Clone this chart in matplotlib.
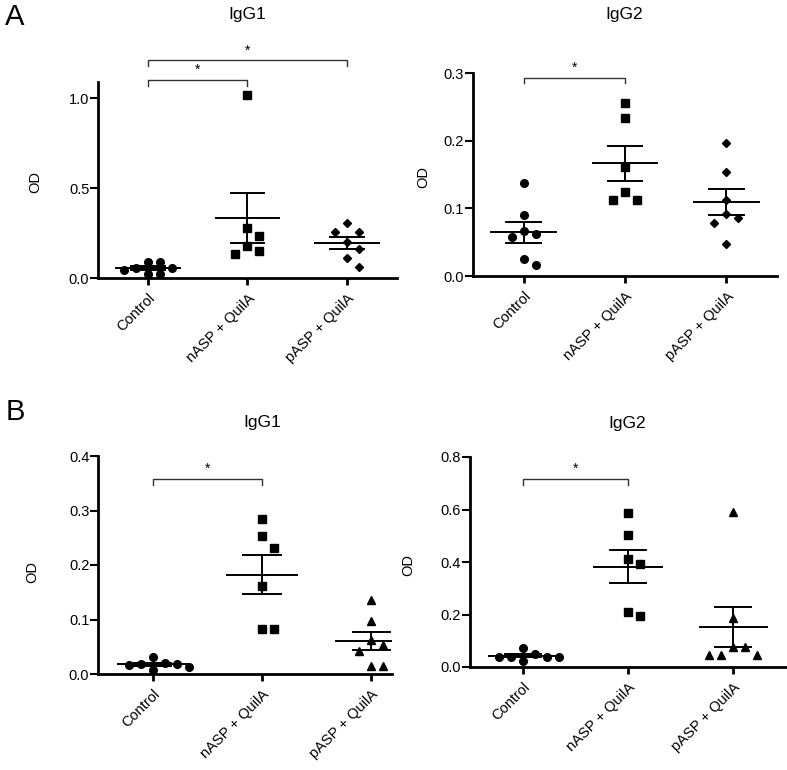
import numpy as np
import matplotlib
matplotlib.use("Agg")
import matplotlib.pyplot as plt

plt.rcParams['font.family'] = ['Liberation Sans', 'DejaVu Sans']

GROUPS = ['Control', 'nASP + QuilA', 'pASP + QuilA']

# panel A (IgG1, IgG2)
A_IGG1 = [
    [0.056, 0.045, 0.089, 0.089, 0.020, 0.020, 0.056],
    [1.02, 0.278, 0.231, 0.176, 0.135, 0.148],
    [0.306, 0.256, 0.256, 0.200, 0.163, 0.111, 0.059],
]
A_IGG2 = [
    [0.137, 0.090, 0.066, 0.062, 0.0575, 0.025, 0.016],
    [0.256, 0.234, 0.161, 0.1235, 0.112, 0.113],
    [0.197, 0.154, 0.112, 0.085, 0.0915, 0.079, 0.047],
]
# panel B (IgG1, IgG2)
B_IGG1 = [
    [0.018, 0.016, 0.008, 0.031, 0.013, 0.018, 0.021],
    [0.285, 0.253, 0.232, 0.161, 0.082, 0.082],
    [0.136, 0.0965, 0.063, 0.054, 0.0415, 0.015, 0.015],
]
B_IGG2 = [
    [0.073, 0.038, 0.038, 0.023, 0.038, 0.038, 0.048],
    [0.586, 0.501, 0.410, 0.391, 0.195, 0.210],
    [0.592, 0.1885, 0.076, 0.045, 0.045, 0.045, 0.076],
]

A_MARKERS = ['o', 's', 'D']
B_MARKERS = ['o', 's', '^']
MSIZE = {'o': 5.5, 's': 5.5, 'D': 4.0, '^': 5.5}

# (group i, group j, bracket height, label)
A1_SIG = [(0, 1, 1.10, '*'), (0, 2, 1.21, '*')]
A2_SIG = [(0, 1, 0.293, '*')]
B1_SIG = [(0, 1, 0.358, '*')]
B2_SIG = [(0, 1, 0.717, '*')]

W, H = 787, 770
fig = plt.figure(figsize=(W / 100, H / 100), dpi=100)


def box(l, r, t, b):
    return [l / W, 1 - b / H, (r - l) / W, (b - t) / H]


def swarm(ax, vals, d_px):
    # simple beeswarm: push points sideways until they don't overlap
    fig.canvas.draw()
    tr = ax.transData
    px_x = tr.transform((1, 0))[0] - tr.transform((0, 0))[0]
    px_y = tr.transform((0, 1))[1] - tr.transform((0, 0))[1]
    order = np.argsort(vals)[::-1]
    placed = []
    xs = np.zeros(len(vals))
    for i in order:
        y = vals[i] * px_y
        ok = 0
        for k in range(0, 20):
            cands = [0] if k == 0 else [k * d_px, -k * d_px]
            hit = [c for c in cands
                   if all(abs(c - px) >= d_px * 0.999 or abs(y - py) >= d_px for px, py in placed)]
            if hit:
                ok = hit[0]
                break
        placed.append((ok, y))
        xs[i] = ok / px_x
    return xs


def panel(pos, data, markers, ymax, yticks, xmax, sig):
    ax = fig.add_axes(pos)
    ax.set_xlim(-0.5, xmax)
    ax.set_ylim(0, ymax)
    for s in ['top', 'right']:
        ax.spines[s].set_visible(False)
    for s in ['left', 'bottom']:
        ax.spines[s].set_linewidth(2.0)
    ax.set_yticks(yticks)
    ax.set_yticklabels(['%.1f' % t for t in yticks], fontsize=10.5)
    ax.set_xticks(range(len(GROUPS)))
    ax.set_xticklabels(GROUPS, rotation=45, ha='right', rotation_mode='anchor', fontsize=10.5)
    ax.tick_params(axis='y', width=1.5, length=5.5, direction='out', pad=0.8)
    ax.tick_params(axis='x', width=2.0, length=5, direction='out', pad=4.5)
    for i, (vals, m) in enumerate(zip(data, markers)):
        vals = np.array(vals)
        xs = swarm(ax, vals, 12.0)
        ax.plot(i + xs, vals, linestyle='none', marker=m, ms=MSIZE[m], color='black',
                clip_on=False, zorder=3)
        mean = vals.mean()
        sem = vals.std(ddof=1) / np.sqrt(len(vals))
        ax.plot([i - 0.32, i + 0.32], [mean, mean], color='black', lw=1.4, zorder=4)
        ax.plot([i - 0.17, i + 0.17], [mean + sem, mean + sem], color='black', lw=1.4, zorder=4)
        ax.plot([i - 0.17, i + 0.17], [mean - sem, mean - sem], color='black', lw=1.4, zorder=4)
        ax.plot([i, i], [mean - sem, mean + sem], color='black', lw=1.4, zorder=4)
    for a, b, h, lab in sig:
        drop = ymax * 0.028
        ax.plot([a, a, b, b], [h - drop, h, h, h - drop], color='#333333', lw=1.0, clip_on=False)
        ax.text((a + b) / 2, h + ymax * 0.015, lab, ha='center', va='bottom', fontsize=10)
    return ax


ax1 = panel(box(98, 397, 82, 278), A_IGG1, A_MARKERS, 1.09, [0.0, 0.5, 1.0], 2.5, A1_SIG)
ax2 = panel(box(473, 777, 73, 276), A_IGG2, A_MARKERS, 0.3, [0.0, 0.1, 0.2, 0.3], 2.5, A2_SIG)
ax3 = panel(box(98, 392, 456, 674), B_IGG1, B_MARKERS, 0.4, [0.0, 0.1, 0.2, 0.3, 0.4], 2.19, B1_SIG)
ax4 = panel(box(470, 787, 457, 667), B_IGG2, B_MARKERS, 0.8, [0.0, 0.2, 0.4, 0.6, 0.8], 2.51, B2_SIG)

for x, y in [(35, 182), (423, 177), (32, 572), (408, 565)]:
    fig.text(x / W, 1 - y / H, 'OD', rotation=90, ha='center', va='center', fontsize=10.5)

for x, y, t in [(247, 15, 'IgG1'), (624, 15, 'IgG2'), (262, 423, 'IgG1'), (627, 424, 'IgG2')]:
    fig.text(x / W, 1 - y / H, t, ha='center', va='center', fontsize=12.5)

fig.text(15 / W, 1 - 17 / H, 'A', ha='center', va='center', fontsize=21)
fig.text(15 / W, 1 - 412 / H, 'B', ha='center', va='center', fontsize=21)

fig.savefig('out.png', dpi=100)
